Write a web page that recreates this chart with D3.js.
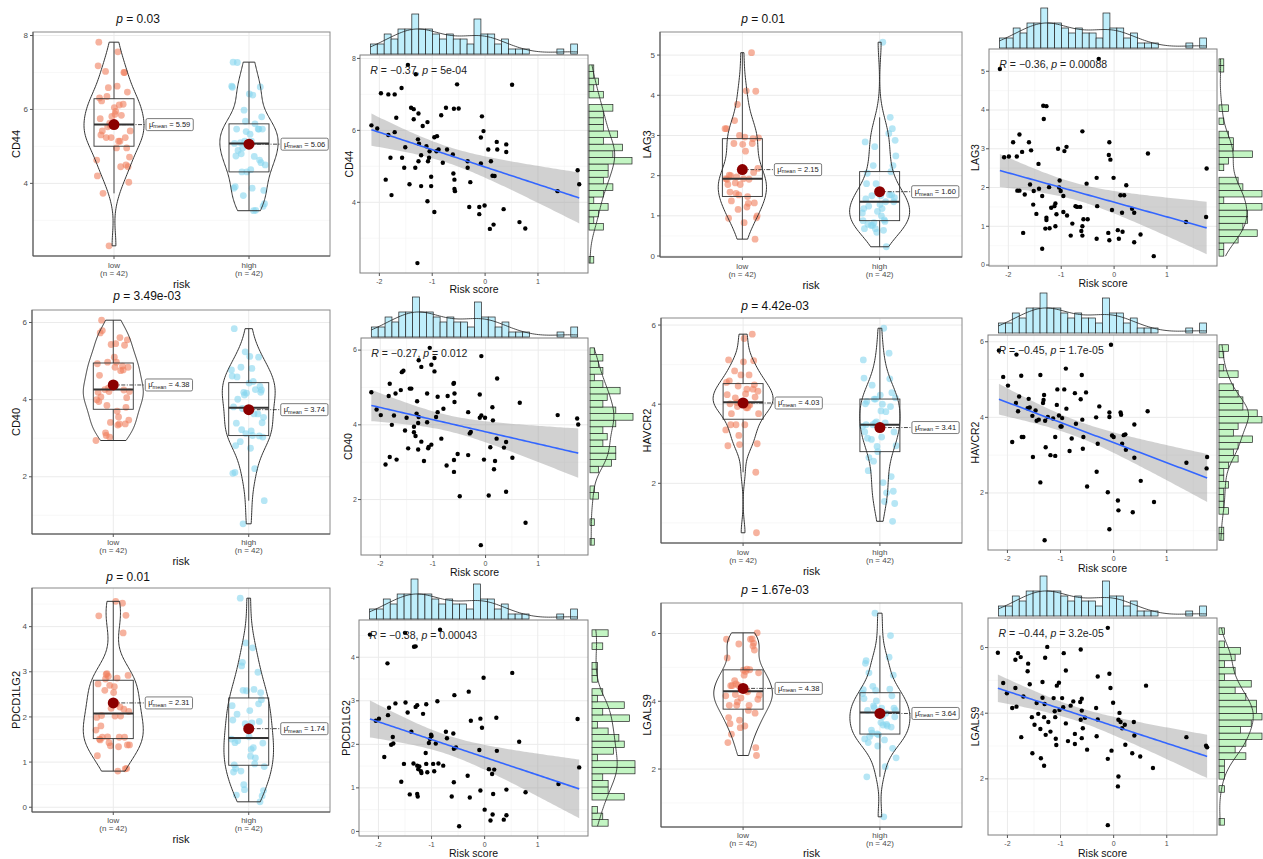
<!DOCTYPE html>
<html><head><meta charset="utf-8">
<script src="https://cdn.jsdelivr.net/npm/d3@7"></script>
<style>body{margin:0;background:#fff} svg{display:block} text{font-family:Arial,"Liberation Sans",sans-serif}</style>
</head><body><svg id="chart" width="1263" height="859"></svg>
<script>
// ---------------- DATA ----------------
const genes = ["CD44","LAG3","CD40","HAVCR2","PDCD1LG2","LGALS9"];
const groupLabels = ["low","high"];
const groupN = [42,42];
const violinP = ["0.03","0.01","3.49e-03","4.42e-03","0.01","1.67e-03"];
const corR = ["\u22120.37","\u22120.36","\u22120.27","\u22120.45","\u22120.38","\u22120.44"];
const corP = ["5e-04","0.00088","0.012","1.7e-05","0.00043","3.2e-05"];
const meanLow  = [5.59,2.15,4.38,4.03,2.31,4.38];
const meanHigh = [5.06,1.60,3.74,3.41,1.74,3.64];
const yTickStep = [2,1,2,2,1,2];
const xTicks = [-2,-1,0,1];

const riskScore = [-2.17,-2.07,-2.01,-1.94,-1.89,-1.85,-1.83,-1.80,-1.76,-1.71,-1.68,-1.64,-1.61,-1.58,-1.56,-1.53,-1.50,-1.46,-1.43,-1.41,-1.39,-1.37,-1.35,-1.33,-1.31,-1.30,-1.28,-1.27,-1.26,-1.23,-1.21,-1.19,-1.16,-1.13,-1.11,-1.09,-1.07,-1.05,-1.03,-0.98,-0.95,-0.92,-0.89,-0.84,-0.80,-0.75,-0.72,-0.66,-0.62,-0.61,-0.59,-0.55,-0.50,-0.45,-0.38,-0.35,-0.33,-0.28,-0.20,-0.14,-0.12,-0.11,-0.10,-0.09,-0.085,-0.06,-0.03,-0.01,0.03,0.07,0.10,0.14,0.16,0.21,0.23,0.35,0.39,0.41,0.51,0.65,0.76,1.37,1.70,1.75];

const CD44_pts = [[-2.15,6.14],[-2.04,6.05],[-1.97,7.03],[-1.88,4.63],[-1.83,7.0],[-1.83,5.87],[-1.79,5.24],[-1.77,4.2],[-1.71,7.0],[-1.71,5.95],[-1.68,6.35],[-1.58,7.18],[-1.57,5.24],[-1.53,4.96],[-1.51,5.53],[-1.46,7.82],[-1.43,4.5],[-1.40,6.63],[-1.35,6.59],[-1.35,6.31],[-1.32,4.96],[-1.31,7.56],[-1.28,2.31],[-1.27,5.75],[-1.26,6.47],[-1.26,5.14],[-1.25,5.63],[-1.21,5.31],[-1.21,4.45],[-1.18,6.12],[-1.11,5.56],[-1.09,6.23],[-1.09,4.03],[-1.08,5.14],[-1.06,5.24],[-1.05,5.42],[-1.02,4.71],[-1.02,4.45],[-0.96,5.81],[-0.96,3.73],[-0.92,5.42],[-0.91,5.84],[-0.88,5.47],[-0.83,6.42],[-0.80,5.1],[-0.74,6.63],[-0.72,5.47],[-0.61,5.33],[-0.60,4.8],[-0.59,6.6],[-0.58,4.63],[-0.58,4.37],[-0.57,4.31],[-0.53,7.28],[-0.50,6.61],[-0.33,5.14],[-0.33,4.96],[-0.30,3.87],[-0.28,4.56],[-0.11,3.87],[-0.11,3.67],[-0.08,5.08],[-0.08,5.8],[-0.06,6.39],[-0.03,5.98],[-0.01,3.91],[0.06,5.47],[0.09,3.26],[0.11,5.14],[0.14,4.74],[0.16,3.38],[0.18,4.73],[0.22,5.68],[0.23,5.47],[0.35,3.81],[0.40,5.61],[0.40,5.4],[0.51,7.27],[0.65,3.45],[0.76,3.27],[1.37,4.31],[1.75,4.89],[1.78,4.5]];

const LAG3_pts = [[-2.16,5.06],[-2.08,2.78],[-1.99,2.8],[-1.91,3.17],[-1.84,2.8],[-1.83,1.92],[-1.79,3.37],[-1.79,1.92],[-1.74,2.92],[-1.72,0.83],[-1.69,1.82],[-1.61,3.17],[-1.59,2.08],[-1.57,2.96],[-1.53,1.56],[-1.52,1.91],[-1.47,1.32],[-1.43,2.61],[-1.42,1.97],[-1.36,1.78],[-1.36,0.42],[-1.34,4.11],[-1.33,3.77],[-1.30,0.94],[-1.28,4.1],[-1.28,1.22],[-1.28,1.16],[-1.23,2.01],[-1.22,0.95],[-1.19,1.48],[-1.13,1.52],[-1.11,1.59],[-1.11,1.0],[-1.09,1.31],[-1.06,3.0],[-1.04,2.0],[-1.03,2.18],[-1.01,1.91],[-0.96,1.78],[-0.96,1.37],[-0.94,2.94],[-0.90,3.05],[-0.89,1.28],[-0.82,0.76],[-0.79,1.07],[-0.73,1.52],[-0.70,1.5],[-0.64,1.5],[-0.62,0.88],[-0.60,3.45],[-0.60,1.0],[-0.60,0.76],[-0.58,1.18],[-0.52,2.1],[-0.50,1.18],[-0.33,2.25],[-0.33,0.68],[-0.32,1.52],[-0.29,5.32],[-0.11,0.83],[-0.10,2.84],[-0.09,3.17],[-0.09,0.64],[-0.07,2.72],[-0.04,1.42],[-0.01,2.25],[0.07,0.9],[0.09,0.68],[0.12,1.8],[0.15,1.35],[0.16,0.86],[0.19,1.8],[0.23,2.06],[0.34,1.45],[0.38,1.35],[0.38,0.59],[0.50,0.79],[0.64,2.88],[0.75,0.23],[1.36,1.11],[1.74,1.24],[1.75,2.49]];

const CD40_pts = [[-2.17,4.87],[-2.07,4.41],[-1.99,4.26],[-1.90,2.94],[-1.84,4.77],[-1.82,5.1],[-1.82,3.14],[-1.78,4.0],[-1.74,4.25],[-1.71,4.84],[-1.69,3.07],[-1.61,4.93],[-1.59,5.41],[-1.56,5.45],[-1.53,3.85],[-1.50,4.19],[-1.47,3.37],[-1.44,4.97],[-1.41,4.97],[-1.36,3.95],[-1.36,3.8],[-1.33,3.7],[-1.31,4.3],[-1.30,4.63],[-1.28,4.05],[-1.28,3.34],[-1.27,4.21],[-1.27,5.73],[-1.22,5.55],[-1.22,3.55],[-1.17,3.03],[-1.11,4.07],[-1.11,4.84],[-1.09,3.37],[-1.08,3.41],[-1.06,6.06],[-1.03,3.47],[-1.03,5.61],[-0.97,5.43],[-0.97,5.79],[-0.94,4.21],[-0.91,4.75],[-0.91,4.34],[-0.84,3.63],[-0.80,4.43],[-0.74,2.91],[-0.72,4.77],[-0.61,5.1],[-0.60,5.12],[-0.59,4.84],[-0.59,4.61],[-0.60,3.06],[-0.60,2.74],[-0.53,3.22],[-0.49,2.09],[-0.33,4.34],[-0.33,3.19],[-0.30,3.77],[-0.28,3.81],[-0.11,4.19],[-0.11,4.81],[-0.09,0.78],[-0.08,5.84],[-0.08,4.25],[-0.03,3.07],[-0.01,4.19],[0.06,2.11],[0.09,3.4],[0.13,4.47],[0.14,4.12],[0.16,2.81],[0.18,3.03],[0.21,3.63],[0.22,5.24],[0.35,3.39],[0.39,3.54],[0.39,2.21],[0.51,3.12],[0.65,4.59],[0.76,1.38],[1.37,4.26],[1.74,4.17],[1.76,4.01]];

const HAVCR2_pts = [[-2.16,5.77],[-2.08,5.07],[-1.99,4.84],[-1.91,3.35],[-1.84,4.38],[-1.83,5.66],[-1.80,4.16],[-1.78,4.55],[-1.74,5.1],[-1.73,3.48],[-1.70,3.48],[-1.62,4.24],[-1.60,4.49],[-1.58,4.26],[-1.53,4.04],[-1.52,2.95],[-1.47,4.18],[-1.45,3.91],[-1.41,3.94],[-1.38,5.12],[-1.38,2.28],[-1.33,4.38],[-1.32,4.46],[-1.31,4.59],[-1.30,0.75],[-1.29,3.91],[-1.28,3.21],[-1.24,4.01],[-1.19,3.0],[-1.14,3.97],[-1.10,2.98],[-1.10,3.48],[-1.07,4.33],[-1.06,4.74],[-1.03,4.05],[-1.00,3.76],[-0.98,3.76],[-0.97,3.98],[-0.93,4.74],[-0.90,5.29],[-0.89,4.23],[-0.83,3.11],[-0.79,3.44],[-0.73,4.64],[-0.71,3.83],[-0.62,4.48],[-0.60,5.12],[-0.59,3.94],[-0.58,3.17],[-0.57,3.48],[-0.52,4.66],[-0.50,2.17],[-0.33,4.0],[-0.32,2.56],[-0.30,3.3],[-0.27,4.29],[-0.11,2.02],[-0.08,4.13],[-0.08,4.01],[-0.08,1.04],[-0.05,5.92],[-0.03,3.52],[0.0,3.48],[0.08,1.8],[0.09,1.54],[0.13,4.13],[0.14,4.07],[0.16,3.3],[0.19,3.53],[0.22,3.55],[0.23,3.14],[0.36,1.49],[0.39,3.81],[0.39,2.93],[0.51,2.32],[0.64,4.16],[0.76,1.76],[1.37,2.8],[1.75,2.65],[1.76,2.95]];

const PDCD1LG2_pts = [[-2.16,4.52],[-2.05,2.54],[-1.99,2.59],[-1.89,1.71],[-1.83,3.86],[-1.82,2.67],[-1.80,2.84],[-1.76,1.99],[-1.73,2.17],[-1.72,2.02],[-1.68,2.94],[-1.57,1.14],[-1.52,1.55],[-1.50,4.56],[-1.49,2.96],[-1.45,2.73],[-1.41,0.85],[-1.38,2.29],[-1.34,1.56],[-1.33,4.24],[-1.30,4.25],[-1.30,2.86],[-1.27,2.9],[-1.27,1.51],[-1.27,0.86],[-1.26,0.8],[-1.25,1.43],[-1.23,1.49],[-1.20,1.38],[-1.19,1.34],[-1.16,2.7],[-1.11,1.8],[-1.10,2.92],[-1.10,1.55],[-1.08,1.36],[-1.05,2.03],[-1.03,2.12],[-1.01,2.22],[-1.00,2.19],[-0.97,1.55],[-0.95,1.38],[-0.92,2.02],[-0.89,2.99],[-0.87,1.56],[-0.84,4.63],[-0.78,1.51],[-0.73,2.29],[-0.71,2.14],[-0.62,0.8],[-0.59,2.25],[-0.58,1.9],[-0.58,1.13],[-0.57,3.13],[-0.54,1.93],[-0.48,0.12],[-0.32,1.28],[-0.30,3.21],[-0.28,0.78],[-0.26,2.54],[-0.10,1.87],[-0.08,2.59],[-0.08,0.94],[-0.05,2.38],[-0.02,3.53],[0.0,0.5],[0.08,1.43],[0.11,0.25],[0.14,1.32],[0.15,0.39],[0.16,0.86],[0.18,1.42],[0.22,2.61],[0.23,1.85],[0.36,0.27],[0.41,0.37],[0.41,0.96],[0.52,3.64],[0.65,2.06],[0.77,0.9],[1.39,1.09],[1.75,2.58],[1.78,1.47]];

const LGALS9_pts = [[-2.18,5.84],[-2.08,4.92],[-2.01,4.61],[-1.91,4.16],[-1.85,5.63],[-1.85,4.77],[-1.83,4.2],[-1.80,5.83],[-1.75,5.71],[-1.74,3.27],[-1.70,4.51],[-1.62,5.28],[-1.61,5.51],[-1.58,4.88],[-1.54,3.88],[-1.53,2.78],[-1.49,3.65],[-1.45,4.31],[-1.42,3.98],[-1.38,3.52],[-1.37,2.63],[-1.34,4.95],[-1.34,4.47],[-1.31,3.88],[-1.31,2.4],[-1.30,4.28],[-1.29,5.69],[-1.28,3.34],[-1.25,6.02],[-1.23,3.73],[-1.19,3.44],[-1.13,4.46],[-1.11,4.06],[-1.10,3.88],[-1.09,3.22],[-1.08,3.03],[-1.07,4.84],[-1.03,4.93],[-1.02,4.1],[-0.97,4.46],[-0.95,4.18],[-0.94,5.83],[-0.90,5.3],[-0.90,3.69],[-0.86,3.15],[-0.81,4.23],[-0.76,4.36],[-0.73,3.37],[-0.73,3.06],[-0.63,4.34],[-0.62,5.94],[-0.62,3.8],[-0.60,4.44],[-0.60,4.08],[-0.60,3.24],[-0.58,3.54],[-0.54,3.86],[-0.50,2.89],[-0.33,4.16],[-0.32,3.3],[-0.30,3.81],[-0.30,5.12],[-0.11,2.61],[-0.11,0.59],[-0.11,6.6],[-0.08,5.2],[-0.06,4.77],[-0.04,2.86],[-0.01,4.32],[0.08,1.77],[0.09,3.8],[0.09,2.07],[0.11,4.01],[0.13,3.73],[0.16,3.54],[0.21,3.65],[0.22,3.04],[0.35,2.78],[0.38,3.73],[0.39,3.32],[0.50,2.68],[0.61,4.84],[0.74,2.33],[1.37,3.27],[1.74,3.01],[1.76,2.96]];

const genePoints = [CD44_pts, LAG3_pts, CD40_pts, HAVCR2_pts, PDCD1LG2_pts, LGALS9_pts];

// ---------------- LAYOUT ----------------
const vLayout = [
  {L:33, R:330, T:32,  B:256, titleX:138, titleY:23,  ylabX:16,  labY:[268,276,288]},
  {L:660,R:962, T:32,  B:257, titleX:763, titleY:23,  ylabX:647, labY:[269,277,289]},
  {L:32, R:330, T:310, B:534, titleX:147, titleY:300, ylabX:16,  labY:[545,553,565]},
  {L:661,R:962, T:318, B:543, titleX:775, titleY:310, ylabX:647, labY:[555,563,575]},
  {L:32, R:330, T:588, B:812, titleX:128, titleY:581, ylabX:16,  labY:[823,831,843]},
  {L:661,R:962, T:603, B:827, titleX:775, titleY:594, ylabX:647, labY:[838,846,857]}
];
const sLayout = [
  {L:360, R:588, T:55,  B:273, hBase:54,  rL:589,  xlabY:293, ylabX:349},
  {L:989, R:1217,T:49,  B:266, hBase:48,  rL:1219, xlabY:287, ylabX:975},
  {L:361, R:588, T:338, B:555, hBase:337, rL:590,  xlabY:576, ylabX:348},
  {L:988, R:1217,T:335, B:550, hBase:333, rL:1219, xlabY:572, ylabX:975},
  {L:359, R:588, T:620, B:836, hBase:619, rL:592,  xlabY:857, ylabX:346},
  {L:988, R:1217,T:618, B:835, hBase:616, rL:1219, xlabY:857, ylabX:975}
];

const svg = d3.select("#chart");
const GRID = "#EBEBEB", GRIDMIN = "#F4F4F4", TICKTXT = "#4D4D4D";

function gauss(u){ return Math.exp(-0.5*u*u)/Math.sqrt(2*Math.PI); }
function nrd0(v){
  const s = v.slice().sort(d3.ascending);
  const sd = d3.deviation(s);
  const iqr = (d3.quantile(s,0.75)-d3.quantile(s,0.25))/1.34;
  const lo = Math.min(sd, iqr || sd);
  return 0.9*lo*Math.pow(s.length,-0.2);
}
function kde(vals,bw,xs){ return xs.map(x => d3.mean(vals, v => gauss((x-v)/bw))/bw); }
function expandDomain(ext){ const d=(ext[1]-ext[0])*0.05; return [ext[0]-d, ext[1]+d]; }
function stepTicks(dom, step){ const out=[]; for(let t=Math.ceil(dom[0]/step)*step; t<=dom[1]+1e-9; t+=step) out.push(+t.toFixed(6)); return out; }
function minorTicks(dom, step){ const out=[]; for(let t=Math.ceil((dom[0]-step/2)/step)*step+step/2; t<=dom[1]; t+=step) if(t>=dom[0]) out.push(t); return out; }

const xMedian = d3.median(riskScore);

// ---------------- VIOLIN PANELS ----------------
genes.forEach((gene, gi) => {
  const lay = vLayout[gi];
  const pts = genePoints[gi];
  const groups = [pts.filter(p => p[0] <= xMedian).map(p=>p[1]), pts.filter(p => p[0] > xMedian).map(p=>p[1])];
  const allY = pts.map(p=>p[1]);
  const yDom = expandDomain(d3.extent(allY));
  const y = d3.scaleLinear().domain(yDom).range([lay.B, lay.T]);
  const x = d3.scaleLinear().domain([0.4, 2.6]).range([lay.L, lay.R]);
  const g = svg.append("g");
  const step = yTickStep[gi];
  const majors = stepTicks(yDom, step), minors = minorTicks(yDom, step);
  g.append("rect").attr("x",lay.L).attr("y",lay.T).attr("width",lay.R-lay.L).attr("height",lay.B-lay.T).attr("fill","#fff");
  minors.forEach(t => g.append("line").attr("x1",lay.L).attr("x2",lay.R).attr("y1",y(t)).attr("y2",y(t)).attr("stroke",GRIDMIN).attr("stroke-width",0.6));
  majors.forEach(t => g.append("line").attr("x1",lay.L).attr("x2",lay.R).attr("y1",y(t)).attr("y2",y(t)).attr("stroke",GRID).attr("stroke-width",1));
  [1,2].forEach(k => g.append("line").attr("x1",x(k)).attr("x2",x(k)).attr("y1",lay.T).attr("y2",lay.B).attr("stroke",GRID).attr("stroke-width",1));
  g.append("rect").attr("x",lay.L).attr("y",lay.T).attr("width",lay.R-lay.L).attr("height",lay.B-lay.T).attr("fill","none").attr("stroke","#8a8a8a").attr("stroke-width",1);
  g.append("line").attr("x1",lay.L).attr("x2",lay.L).attr("y1",lay.T).attr("y2",lay.B).attr("stroke","#555").attr("stroke-width",1);
  g.append("line").attr("x1",lay.L).attr("x2",lay.R).attr("y1",lay.B).attr("y2",lay.B).attr("stroke","#555").attr("stroke-width",1);
  majors.forEach(t => {
    g.append("line").attr("x1",lay.L-3).attr("x2",lay.L).attr("y1",y(t)).attr("y2",y(t)).attr("stroke","#555");
    g.append("text").attr("x",lay.L-5).attr("y",y(t)).attr("dy","0.33em").attr("text-anchor","end").attr("font-size",8).attr("fill",TICKTXT).text(t);
  });
  [1,2].forEach((k,i) => {
    g.append("line").attr("x1",x(k)).attr("x2",x(k)).attr("y1",lay.B).attr("y2",lay.B+3).attr("stroke","#555");
    g.append("text").attr("x",x(k)).attr("y",lay.labY[0]).attr("text-anchor","middle").attr("font-size",8).attr("fill",TICKTXT).text(groupLabels[i]);
    g.append("text").attr("x",x(k)).attr("y",lay.labY[1]).attr("text-anchor","middle").attr("font-size",8).attr("fill",TICKTXT).text("(n = " + groupN[i] + ")");
  });
  g.append("text").attr("x",(lay.L+lay.R)/2).attr("y",lay.labY[2]).attr("text-anchor","middle").attr("font-size",11).attr("fill","#111").text("risk");
  g.append("text").attr("transform",`translate(${lay.ylabX},${(lay.T+lay.B)/2}) rotate(-90)`).attr("text-anchor","middle").attr("dy","0.35em").attr("font-size",11).attr("fill","#111").text(gene);
  const tt = g.append("text").attr("x",lay.titleX).attr("y",lay.titleY).attr("text-anchor","middle").attr("font-size",12).attr("fill","#111");
  tt.append("tspan").attr("font-style","italic").text("p");
  tt.append("tspan").text(" = " + violinP[gi]);

  const dens = groups.map(vals => {
    const ext = d3.extent(vals), bw = nrd0(vals);
    const ys = d3.range(121).map(i => ext[0] + (ext[1]-ext[0])*i/120);
    const d = kde(vals,bw,ys);
    return ys.map((yy,i)=>({y:yy,d:d[i]}));
  });
  const maxD = d3.max(dens.flat(), d=>d.d);
  const halfMax = 30;
  const ptColors = ["#F07F5E","#86D6EF"];
  groups.forEach((vals, k) => {
    const cx = x(k+1);
    vals.forEach((v,i) => {
      const off = ((((i+1)*0.7548776662) % 1) - 0.5) * 36;
      g.append("circle").attr("cx",cx+off).attr("cy",y(v)).attr("r",3.4).attr("fill",ptColors[k]).attr("fill-opacity",0.6);
    });
    const s = vals.slice().sort(d3.ascending);
    const q1 = d3.quantile(s,0.25), q2 = d3.quantile(s,0.5), q3 = d3.quantile(s,0.75), iqr = q3-q1;
    const wLo = d3.min(s.filter(v => v >= q1-1.5*iqr)), wHi = d3.max(s.filter(v => v <= q3+1.5*iqr));
    g.append("line").attr("x1",cx).attr("x2",cx).attr("y1",y(q3)).attr("y2",y(wHi)).attr("stroke","#333").attr("stroke-width",0.9);
    g.append("line").attr("x1",cx).attr("x2",cx).attr("y1",y(q1)).attr("y2",y(wLo)).attr("stroke","#333").attr("stroke-width",0.9);
    g.append("rect").attr("x",cx-20).attr("y",y(q3)).attr("width",40).attr("height",y(q1)-y(q3)).attr("fill","none").attr("stroke","#333").attr("stroke-width",0.9);
    g.append("line").attr("x1",cx-20).attr("x2",cx+20).attr("y1",y(q2)).attr("y2",y(q2)).attr("stroke","#333").attr("stroke-width",2);
    const area = d3.area().curve(d3.curveLinear)
      .y(d => y(d.y)).x0(d => cx - d.d/maxD*halfMax).x1(d => cx + d.d/maxD*halfMax);
    g.append("path").attr("d", area(dens[k])).attr("fill","none").attr("stroke","#333").attr("stroke-width",1);
    const m = [meanLow, meanHigh][k][gi];
    const my = y(m);
    const lx = cx + 32;
    g.append("line").attr("x1",cx).attr("x2",lx).attr("y1",my).attr("y2",my).attr("stroke","#333").attr("stroke-width",0.9).attr("stroke-dasharray","4,1.5,1,1.5");
    g.append("circle").attr("cx",cx).attr("cy",my).attr("r",5.5).attr("fill","#8B0000");
    const lab = g.append("g");
    const lt = lab.append("text").attr("x",lx+3).attr("y",my).attr("dy","0.33em").attr("font-size",7.5).attr("fill","#222");
    lt.append("tspan").text("\u03BC\u0302");
    lt.append("tspan").attr("font-size",5.5).attr("dy","0.25em").text("mean");
    lt.append("tspan").attr("dy","-0.2em").text(" = " + m.toFixed(2));
    const bb = lt.node().getBBox();
    lab.insert("rect","text").attr("x",lx).attr("y",my-6).attr("width",bb.width+6).attr("height",12).attr("rx",1.5).attr("fill","#fff").attr("stroke","#444").attr("stroke-width",0.7);
  });
});

// ---------------- SCATTER PANELS ----------------
const xDom = expandDomain(d3.extent(riskScore));
const xExt = d3.extent(riskScore);
const xThr = d3.range(1,30).map(i => xExt[0] + (xExt[1]-xExt[0])*i/30);
const xBins = d3.bin().domain(xExt).thresholds(xThr)(riskScore);
const xBw = nrd0(riskScore);

genes.forEach((gene, gi) => {
  const lay = sLayout[gi];
  const pts = genePoints[gi];
  const ys = pts.map(p=>p[1]);
  const yExt = d3.extent(ys);
  const yDom = expandDomain(yExt);
  const x = d3.scaleLinear().domain(xDom).range([lay.L, lay.R]);
  const y = d3.scaleLinear().domain(yDom).range([lay.B, lay.T]);
  const g = svg.append("g");
  const step = yTickStep[gi];
  const yMaj = stepTicks(yDom, step), yMin = minorTicks(yDom, step);
  const xMin = minorTicks(xDom, 1);
  g.append("rect").attr("x",lay.L).attr("y",lay.T).attr("width",lay.R-lay.L).attr("height",lay.B-lay.T).attr("fill","#fff");
  yMin.forEach(t => g.append("line").attr("x1",lay.L).attr("x2",lay.R).attr("y1",y(t)).attr("y2",y(t)).attr("stroke",GRIDMIN).attr("stroke-width",0.6));
  xMin.forEach(t => g.append("line").attr("y1",lay.T).attr("y2",lay.B).attr("x1",x(t)).attr("x2",x(t)).attr("stroke",GRIDMIN).attr("stroke-width",0.6));
  yMaj.forEach(t => g.append("line").attr("x1",lay.L).attr("x2",lay.R).attr("y1",y(t)).attr("y2",y(t)).attr("stroke",GRID).attr("stroke-width",1));
  xTicks.forEach(t => g.append("line").attr("y1",lay.T).attr("y2",lay.B).attr("x1",x(t)).attr("x2",x(t)).attr("stroke",GRID).attr("stroke-width",1));

  const n = pts.length, mx = d3.mean(pts,p=>p[0]), my = d3.mean(pts,p=>p[1]);
  const sxx = d3.sum(pts,p=>(p[0]-mx)**2), sxy = d3.sum(pts,p=>(p[0]-mx)*(p[1]-my));
  const b = sxy/sxx, a = my - b*mx;
  const s2 = d3.sum(pts,p=>(p[1]-a-b*p[0])**2)/(n-2), tq = 1.99;
  const px = d3.extent(pts,p=>p[0]);
  const grid = d3.range(81).map(i => px[0] + (px[1]-px[0])*i/80).map(xx => {
    const f = a + b*xx, se = Math.sqrt(s2*(1/n + (xx-mx)**2/sxx));
    return {x:xx, f:f, lo:f-tq*se, hi:f+tq*se};
  });
  g.append("path").attr("d", d3.area().x(d=>x(d.x)).y0(d=>y(d.lo)).y1(d=>y(d.hi))(grid)).attr("fill","#999").attr("fill-opacity",0.45);
  pts.forEach(p => g.append("circle").attr("cx",x(p[0])).attr("cy",y(p[1])).attr("r",2.2).attr("fill","#000"));
  g.append("path").attr("d", d3.line().x(d=>x(d.x)).y(d=>y(d.f))(grid)).attr("fill","none").attr("stroke","#3366FF").attr("stroke-width",1.6);

  g.append("rect").attr("x",lay.L).attr("y",lay.T).attr("width",lay.R-lay.L).attr("height",lay.B-lay.T).attr("fill","none").attr("stroke","#7f7f7f").attr("stroke-width",1);
  yMaj.forEach(t => {
    g.append("line").attr("x1",lay.L-3).attr("x2",lay.L).attr("y1",y(t)).attr("y2",y(t)).attr("stroke","#555");
    g.append("text").attr("x",lay.L-4).attr("y",y(t)).attr("dy","0.33em").attr("text-anchor","end").attr("font-size",7).attr("fill",TICKTXT).text(t);
  });
  xTicks.forEach(t => {
    g.append("line").attr("x1",x(t)).attr("x2",x(t)).attr("y1",lay.B).attr("y2",lay.B+3).attr("stroke","#555");
    g.append("text").attr("x",x(t)).attr("y",lay.B+10.5).attr("text-anchor","middle").attr("font-size",7).attr("fill",TICKTXT).text(t);
  });
  g.append("text").attr("x",(lay.L+lay.R)/2).attr("y",lay.xlabY).attr("text-anchor","middle").attr("font-size",10.5).attr("fill","#111").text("Risk score");
  g.append("text").attr("transform",`translate(${lay.ylabX},${(lay.T+lay.B)/2}) rotate(-90)`).attr("text-anchor","middle").attr("dy","0.35em").attr("font-size",10.5).attr("fill","#111").text(gene);
  const rt = g.append("text").attr("x",x(xExt[0])).attr("y",y(yExt[1])).attr("dy","0.85em").attr("font-size",10.5).attr("fill","#222");
  rt.append("tspan").attr("font-style","italic").text("R");
  rt.append("tspan").text(" = " + corR[gi] + ", ");
  rt.append("tspan").attr("font-style","italic").text("p");
  rt.append("tspan").text(" = " + corP[gi]);

  // top marginal histogram
  const maxC = d3.max(xBins, d=>d.length);
  const hy = d3.scaleLinear().domain([0, maxC]).range([lay.hBase, lay.hBase-40]);
  xBins.forEach(bn => {
    if (bn.length === 0) return;
    g.append("rect").attr("x",x(bn.x0)).attr("width",x(bn.x1)-x(bn.x0)).attr("y",hy(bn.length)).attr("height",lay.hBase-hy(bn.length))
      .attr("fill","#BFEEFB").attr("stroke","#222").attr("stroke-width",0.7);
  });
  const bwX = (xExt[1]-xExt[0])/30;
  const dxs = d3.range(101).map(i => xExt[0] + (xExt[1]-xExt[0])*i/100);
  const dX = kde(riskScore, xBw, dxs);
  g.append("path").attr("d", d3.line().x((d,i)=>x(dxs[i])).y(d=>hy(d*riskScore.length*bwX))(dX)).attr("fill","none").attr("stroke","#222").attr("stroke-width",0.8);

  // right marginal histogram
  const yThr = d3.range(1,30).map(i => yExt[0] + (yExt[1]-yExt[0])*i/30);
  const yBins = d3.bin().domain(yExt).thresholds(yThr)(ys);
  const maxCy = d3.max(yBins, d=>d.length);
  const hx = d3.scaleLinear().domain([0, maxCy]).range([lay.rL, lay.rL+43]);
  yBins.forEach(bn => {
    if (bn.length === 0) return;
    g.append("rect").attr("y",y(bn.x1)).attr("height",y(bn.x0)-y(bn.x1)).attr("x",lay.rL).attr("width",hx(bn.length)-lay.rL)
      .attr("fill","#C3F5C3").attr("stroke","#222").attr("stroke-width",0.7);
  });
  const bwY = (yExt[1]-yExt[0])/30;
  const dys = d3.range(101).map(i => yExt[0] + (yExt[1]-yExt[0])*i/100);
  const dY = kde(ys, nrd0(ys), dys);
  g.append("path").attr("d", d3.line().y((d,i)=>y(dys[i])).x(d=>hx(d*ys.length*bwY))(dY)).attr("fill","none").attr("stroke","#222").attr("stroke-width",0.8);
});
</script>
</body></html>
